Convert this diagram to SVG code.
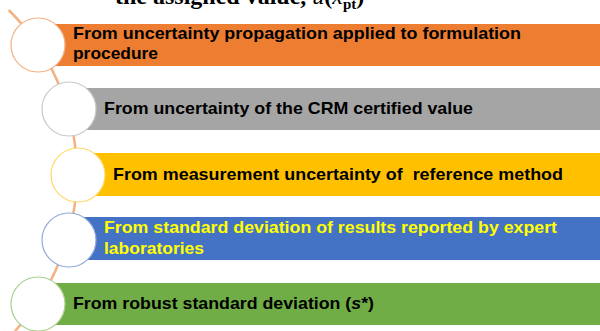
<svg xmlns="http://www.w3.org/2000/svg" width="600" height="331" viewBox="0 0 600 331">
  <style>
    .lbl { font-family: "Liberation Sans", Arial, sans-serif; font-weight: bold; font-size: 17px; fill: #000; }
    .yel { fill: #FFFF00; }
    .ring { fill: #fff; stroke-width: 1.2; }
    .title { font-family: "Liberation Serif", "Times New Roman", serif; font-weight: bold; font-size: 24px; fill: #000; }
  </style>
  <rect width="600" height="331" fill="#fff"/>

  <!-- heading, cut by the top edge -->
  <text class="title" x="115" y="4">the assigned value, <tspan font-style="italic" font-weight="normal">u</tspan>(<tspan font-style="italic" font-weight="normal">x</tspan><tspan font-size="15" dy="5">pt</tspan><tspan dy="-5">)</tspan></text>

  <!-- connector arc through the circles -->
  <g id="connectors">
    <path d="M 8.7 10 A 231 231 0 0 1 15 331" fill="none" stroke="#F4B183" stroke-width="2.5"/>
  </g>

  <g id="item1">
    <rect x="38" y="24" width="562" height="42" fill="#ED7D31"/>
    <circle class="ring" cx="38" cy="45" r="27" stroke="#F4B183"/>
    <text class="lbl" x="73" y="39" textLength="448" lengthAdjust="spacingAndGlyphs">From uncertainty propagation applied to formulation</text>
    <text class="lbl" x="73" y="59" textLength="85" lengthAdjust="spacingAndGlyphs">procedure</text>
  </g>

  <g id="item2">
    <rect x="69" y="88" width="531" height="42" fill="#A5A5A5"/>
    <circle class="ring" cx="69" cy="109" r="27" stroke="#C9C9C9"/>
    <text class="lbl" x="104" y="114" textLength="369" lengthAdjust="spacingAndGlyphs">From uncertainty of the CRM certified value</text>
  </g>

  <g id="item3">
    <rect x="78" y="153" width="522" height="43" fill="#FFC000"/>
    <circle class="ring" cx="78" cy="175" r="27" stroke="#FFD966"/>
    <text class="lbl" x="113" y="180" textLength="450" lengthAdjust="spacingAndGlyphs" xml:space="preserve">From measurement uncertainty of  reference method</text>
  </g>

  <g id="item4">
    <rect x="69" y="217" width="531" height="43" fill="#4472C4"/>
    <circle class="ring" cx="69" cy="240" r="27" stroke="#8FAADC"/>
    <text class="lbl yel" x="104" y="233" textLength="453" lengthAdjust="spacingAndGlyphs">From standard deviation of results reported by expert</text>
    <text class="lbl yel" x="104" y="254" textLength="100" lengthAdjust="spacingAndGlyphs">laboratories</text>
  </g>

  <g id="item5">
    <rect x="38" y="283" width="562" height="42" fill="#70AD47"/>
    <circle class="ring" cx="38" cy="304" r="27" stroke="#A9D18E"/>
    <text class="lbl" x="73" y="309" textLength="301" lengthAdjust="spacingAndGlyphs">From robust standard deviation (<tspan font-style="italic">s</tspan>*)</text>
  </g>
</svg>
